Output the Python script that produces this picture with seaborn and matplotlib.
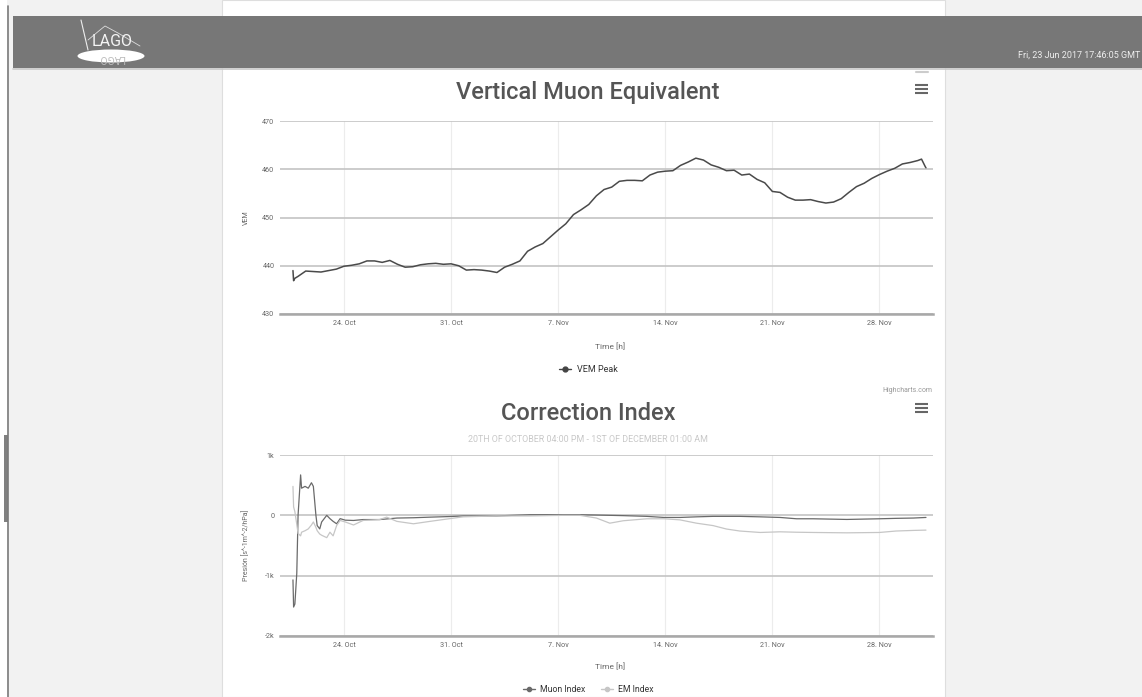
import pandas as pd
import matplotlib
matplotlib.use("Agg")
import matplotlib.pyplot as plt
from matplotlib.lines import Line2D
from matplotlib.patches import Rectangle, Ellipse
import seaborn as sns

# VEM peak (~12 h steps)
vem_times = [
    "2017-10-20 16:00", "2017-10-20 17:00", "2017-10-20 19:00", "2017-10-21 00:00", "2017-10-21 12:00",
    "2017-10-22 00:00", "2017-10-22 12:00", "2017-10-23 00:00", "2017-10-23 12:00", "2017-10-24 00:00",
    "2017-10-24 12:00", "2017-10-25 00:00", "2017-10-25 12:00", "2017-10-26 00:00", "2017-10-26 12:00",
    "2017-10-27 00:00", "2017-10-27 12:00", "2017-10-28 00:00", "2017-10-28 12:00", "2017-10-29 00:00",
    "2017-10-29 12:00", "2017-10-30 00:00", "2017-10-30 12:00", "2017-10-31 00:00", "2017-10-31 12:00",
    "2017-11-01 00:00", "2017-11-01 12:00", "2017-11-02 00:00", "2017-11-02 12:00", "2017-11-03 00:00",
    "2017-11-03 12:00", "2017-11-04 00:00", "2017-11-04 12:00", "2017-11-05 00:00", "2017-11-05 12:00",
    "2017-11-06 00:00", "2017-11-06 12:00", "2017-11-07 00:00", "2017-11-07 12:00", "2017-11-08 00:00",
    "2017-11-08 12:00", "2017-11-09 00:00", "2017-11-09 12:00", "2017-11-10 00:00", "2017-11-10 12:00",
    "2017-11-11 00:00", "2017-11-11 12:00", "2017-11-12 00:00", "2017-11-12 12:00", "2017-11-13 00:00",
    "2017-11-13 12:00", "2017-11-14 00:00", "2017-11-14 12:00", "2017-11-15 00:00", "2017-11-15 12:00",
    "2017-11-16 00:00", "2017-11-16 12:00", "2017-11-17 00:00", "2017-11-17 12:00", "2017-11-18 00:00",
    "2017-11-18 12:00", "2017-11-19 00:00", "2017-11-19 12:00", "2017-11-20 00:00", "2017-11-20 12:00",
    "2017-11-21 00:00", "2017-11-21 12:00", "2017-11-22 00:00", "2017-11-22 12:00", "2017-11-23 00:00",
    "2017-11-23 12:00", "2017-11-24 00:00", "2017-11-24 12:00", "2017-11-25 00:00", "2017-11-25 12:00",
    "2017-11-26 00:00", "2017-11-26 12:00", "2017-11-27 00:00", "2017-11-27 12:00", "2017-11-28 00:00",
    "2017-11-28 12:00", "2017-11-29 00:00", "2017-11-29 12:00", "2017-11-30 00:00", "2017-11-30 12:00",
    "2017-11-30 18:00", "2017-12-01 00:00", "2017-12-01 01:00",
]
vem_values = [
    439.0, 436.9, 437.4, 437.8, 438.9,
    438.8, 438.7, 439.0, 439.3, 439.9,
    440.1, 440.4, 441.0, 441.0, 440.7,
    441.1, 440.3, 439.7, 439.8, 440.2,
    440.4, 440.5, 440.3, 440.4, 440.0,
    439.1, 439.2, 439.1, 438.9, 438.6,
    439.7, 440.3, 441.0, 443.0, 443.9,
    444.6, 446.0, 447.4, 448.7, 450.6,
    451.6, 452.7, 454.5, 455.8, 456.3,
    457.5, 457.7, 457.7, 457.6, 458.8,
    459.4, 459.6, 459.7, 460.8, 461.5,
    462.3, 461.9, 460.9, 460.4, 459.7,
    459.8, 458.8, 459.0, 457.9, 457.2,
    455.4, 455.2, 454.2, 453.6, 453.6,
    453.7, 453.3, 453.0, 453.2, 453.9,
    455.2, 456.4, 457.1, 458.1, 458.9,
    459.6, 460.2, 461.1, 461.4, 461.8,
    462.1, 460.5, 460.3,
]

# correction indices
corr_times = [
    "2017-10-20 16:00", "2017-10-20 17:00", "2017-10-20 19:00", "2017-10-20 22:00", "2017-10-21 00:00",
    "2017-10-21 04:00", "2017-10-21 05:30", "2017-10-21 11:00", "2017-10-21 16:00", "2017-10-21 21:00",
    "2017-10-22 00:00", "2017-10-22 04:00", "2017-10-22 06:00", "2017-10-22 10:00", "2017-10-22 13:00",
    "2017-10-22 21:00", "2017-10-23 02:00", "2017-10-23 07:00", "2017-10-23 12:30", "2017-10-23 18:00",
    "2017-10-24 02:00", "2017-10-24 15:00", "2017-10-25 06:00", "2017-10-26 08:00", "2017-10-26 19:00",
    "2017-10-27 11:00", "2017-10-28 13:00", "2017-10-29 15:00", "2017-10-30 22:00", "2017-10-31 19:00",
    "2017-11-02 23:00", "2017-11-05 04:00", "2017-11-07 08:00", "2017-11-08 10:00", "2017-11-09 12:00",
    "2017-11-10 09:00", "2017-11-11 06:00", "2017-11-12 19:00", "2017-11-13 22:00", "2017-11-14 23:00",
    "2017-11-16 01:00", "2017-11-17 03:00", "2017-11-18 00:00", "2017-11-18 21:00", "2017-11-20 05:00",
    "2017-11-21 12:00", "2017-11-22 14:00", "2017-11-23 16:00", "2017-11-25 21:00", "2017-11-28 00:00",
    "2017-11-29 02:00", "2017-11-30 05:00", "2017-12-01 01:00",
]
muon_index = [
    -1070, -1520, -1470, -960, 0,
    670, 450, 480, 450, 540,
    480, 0, -170, -225, -110,
    0, -55, -100, -140, -55,
    -80, -85, -70, -70, -60,
    -45, -40, -30, -20, -10,
    -10, 10, 10, 10, 5,
    0, -5, -17, -35, -35,
    -25, -17, -17, -17, -25,
    -35, -57, -57, -68, -57,
    -50, -45, -35,
]
em_index = [
    480, 140, 60, -150, -300,
    -340, -280, -255, -225, -160,
    -110, -200, -255, -310, -330,
    -370, -280, -340, -170, -85,
    -110, -160, -85, -70, -30,
    -100, -140, -100, -55, -25,
    -10, -10, 0, 0, -45,
    -130, -90, -57, -57, -75,
    -130, -170, -227, -260, -284,
    -273, -280, -284, -290, -284,
    -260, -250, -245,
]

tick_dates = ["2017-10-24", "2017-10-31", "2017-11-07", "2017-11-14", "2017-11-21", "2017-11-28"]
tick_labels = ["24. Oct", "31. Oct", "7. Nov", "14. Nov", "21. Nov", "28. Nov"]
vem_ticks = [430, 440, 450, 460, 470]
corr_ticks = [-2000, -1000, 0, 1000]
corr_tick_labels = ["-2k", "-1k", "0", "1k"]

vem = pd.DataFrame({"time": pd.to_datetime(vem_times), "VEM Peak": vem_values})
corr = pd.DataFrame({"time": pd.to_datetime(corr_times),
                     "Muon Index": muon_index, "EM Index": em_index})
corr_long = corr.melt(id_vars="time", var_name="series", value_name="index")

sns.set_style("white")
plt.rcParams["font.family"] = ["Roboto", "DejaVu Sans"]

W, H = 1142, 697
fig = plt.figure(figsize=(W / 100, H / 100), dpi=100, facecolor="#f2f2f2")


def fx(x):
    return x / W


def fy(y):
    return 1 - y / H


def box(x0, y0, x1, y1, **kw):
    fig.add_artist(Rectangle((fx(x0), fy(y1)), fx(x1) - fx(x0), (y1 - y0) / H,
                             transform=fig.transFigure, **kw))


def hline(x0, x1, y, **kw):
    fig.add_artist(Line2D([fx(x0), fx(x1)], [fy(y), fy(y)], transform=fig.transFigure, **kw))


# page background pieces
box(0, 0, 7, H, facecolor="white", edgecolor="none", zorder=0)
fig.add_artist(Line2D([fx(7.5), fx(7.5)], [0, fy(6)], transform=fig.transFigure, color="#7a7a7a", lw=1.2))
box(4, 435, 8, 522, facecolor="#808080", edgecolor="none")
box(222, 0, 945, H, facecolor="white", edgecolor="#dedede", lw=0.8, zorder=0)
box(13, 16, W + 5, 68, facecolor="#777777", edgecolor="none", zorder=1)
hline(13, W, 69, color="#c8c8c8", lw=1.2)

# LAGO logo
fig.add_artist(Ellipse((fx(111), fy(56)), 67 / W, 13 / H, transform=fig.transFigure,
                       facecolor="white", edgecolor="none", zorder=2))
fig.add_artist(Line2D([fx(81), fx(88)], [fy(20), fy(50)], transform=fig.transFigure, color="#eeeeee", lw=0.8, zorder=3))
fig.add_artist(Line2D([fx(88), fx(100), fx(105), fx(118), fx(140)], [fy(40), fy(30), fy(26), fy(33), fy(46)],
                      transform=fig.transFigure, color="#dddddd", lw=0.6, zorder=3))
fig.text(fx(112), fy(42), "LAGO", ha="center", va="center", fontsize=11.5, color="#f4f4f4", zorder=3)
fig.text(fx(112), fy(58), "LAGO", ha="center", va="center", fontsize=7.5, color="#bdbdbd",
         rotation=180, zorder=3)
fig.text(fx(1018), fy(55), "Fri, 23 Jun 2017 17:46:05 GMT", ha="left", va="center",
         fontsize=6.5, color="#eeeeee", zorder=3)

# hamburger menus
for yy in (85, 89, 93, 404, 408, 412):
    hline(915, 928, yy, color="#666666", lw=1.5, solid_capstyle="butt")
hline(916, 928, 72, color="#cccccc", lw=1.5)

title_kw = dict(ha="center", va="center", fontsize=17, color="#555555", fontweight="medium")
small = dict(fontsize=5, color="#666666")


def style_axes(ax, yticks, ylabels):
    ax.set_xlim(pd.Timestamp("2017-10-19 19:40"), pd.Timestamp("2017-12-01 12:00"))
    ax.set_xticks(pd.to_datetime(tick_dates))
    ax.set_xticklabels(tick_labels)
    ax.set_yticks(yticks)
    ax.set_yticklabels(ylabels)
    ax.set_ylim(yticks[0], yticks[-1])
    ax.tick_params(length=0, labelsize=5.2, colors="#666666", pad=4)
    ax.grid(axis="y", color="#c4c4c4", lw=1.2)
    ax.grid(axis="x", color="#ececec", lw=0.8)
    ax.set_axisbelow(True)
    for s in ("top", "left", "right"):
        ax.spines[s].set_visible(False)
    ax.spines["bottom"].set_color("#a8a8a8")
    ax.spines["bottom"].set_linewidth(1.8)
    ax.patch.set_alpha(0)
    ax.set_xlabel("Time [h]", fontsize=6, color="#666666")
    ax.xaxis.set_label_coords(0.505, -0.15)


# --- Vertical Muon Equivalent ---
ax1 = fig.add_axes([fx(280), fy(314), fx(933) - fx(280), (314 - 121) / H])
sns.lineplot(data=vem, x="time", y="VEM Peak", ax=ax1, color="#4a4a4a", lw=1.1, legend=False)
style_axes(ax1, vem_ticks, [str(t) for t in vem_ticks])
ax1.set_ylabel("VEM", **small)
ax1.yaxis.set_label_coords(-0.046, 0.5)
fig.text(fx(588), fy(93), "Vertical Muon Equivalent", **title_kw)
fig.legend(handles=[Line2D([], [], color="#444444", lw=1, marker="o", ms=3.5)], labels=["VEM Peak"],
           loc="center", bbox_to_anchor=(fx(588), fy(370)), frameon=False, fontsize=6.5,
           handlelength=1.4, handletextpad=0.6, labelcolor="#333333")
fig.text(fx(932), fy(390), "Highcharts.com", ha="right", va="center", fontsize=5, color="#999999")

# --- Correction Index ---
ax2 = fig.add_axes([fx(280), fy(636), fx(933) - fx(280), (636 - 455) / H])
sns.lineplot(data=corr_long, x="time", y="index", hue="series", ax=ax2,
             palette={"Muon Index": "#6a6a6a", "EM Index": "#c6c6c6"}, lw=0.9, legend=False)
style_axes(ax2, corr_ticks, corr_tick_labels)
ax2.set_ylabel("Presión [s^-1m^-2/hPa]", **small)
ax2.yaxis.set_label_coords(-0.046, 0.5)
fig.text(fx(588), fy(413), "Correction Index", **title_kw)
fig.text(fx(588), fy(439), "20TH OF OCTOBER 04:00 PM - 1ST OF DECEMBER 01:00 AM",
         ha="center", va="center", fontsize=6.4, color="#c8c8c8")
fig.legend(handles=[Line2D([], [], color="#6a6a6a", lw=1, marker="o", ms=3),
                    Line2D([], [], color="#c6c6c6", lw=1, marker="o", ms=3)],
           labels=["Muon Index", "EM Index"], ncol=2, loc="center",
           bbox_to_anchor=(fx(588), fy(690)), frameon=False, fontsize=6.2,
           handlelength=1.4, handletextpad=0.6, columnspacing=1.8, labelcolor="#333333")

fig.savefig("out.png", dpi=100, facecolor=fig.get_facecolor())
